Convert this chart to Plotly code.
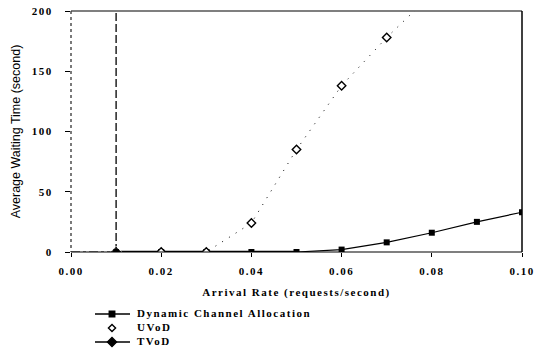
import plotly.graph_objects as go

# Arrival rate (requests/second) and average waiting time (second)
rates = [0.01, 0.02, 0.03, 0.04, 0.05, 0.06, 0.07, 0.08, 0.09, 0.10]
dynamic_wait = [0, 0, 0, 0, 0, 2, 8, 16, 25, 33]

uvod_rates = [0.02, 0.03, 0.04, 0.05, 0.06, 0.07, 0.08]
uvod_wait = [0, 0, 24, 85, 138, 178, 214]

tvod_rates = [0.01, 0.02, 0.03, 0.04, 0.05]
tvod_wait = [0, 0, 0, 0, 0]
tvod_limit_rate = 0.01          # TVoD becomes unbounded beyond this rate
tvod_limit_wait = [0, 200]

series_names = ["Dynamic Channel Allocation", "UVoD", "TVoD"]

x_ticks = [0.00, 0.02, 0.04, 0.06, 0.08, 0.10]
x_tick_text = ["0.00", "0.02", "0.04", "0.06", "0.08", "0.10"]
y_ticks = [0, 50, 100, 150, 200]

W, H = 544, 349
PL, PR, PT, PB = 71, 522, 11, 252   # plot area in pixels

serif = "Liberation Serif"
fig = go.Figure()

# lead-in and asymptote for TVoD
fig.add_trace(go.Scatter(x=[0.0, tvod_limit_rate], y=[0, 0], mode="lines",
                         line=dict(color="black", width=1, dash="dashdot"),
                         showlegend=False, hoverinfo="skip"))
fig.add_trace(go.Scatter(x=[tvod_limit_rate, tvod_limit_rate], y=tvod_limit_wait,
                         mode="lines", line=dict(color="black", width=1.3, dash="8px,3px"),
                         showlegend=False, hoverinfo="skip"))

fig.add_trace(go.Scatter(x=rates, y=dynamic_wait, mode="lines+markers",
                         line=dict(color="black", width=1.2),
                         marker=dict(symbol="square", size=6, color="black"),
                         showlegend=False))
fig.add_trace(go.Scatter(x=tvod_rates, y=tvod_wait, mode="lines+markers",
                         line=dict(color="black", width=2.4),
                         marker=dict(symbol="diamond", size=[9, 0, 0, 0, 0], color="black"),
                         showlegend=False))
fig.add_trace(go.Scatter(x=uvod_rates, y=uvod_wait, mode="lines+markers",
                         line=dict(color="black", width=1, dash="1px,7px"),
                         marker=dict(symbol="diamond", size=6.5, color="white",
                                     line=dict(width=1.4, color="black")),
                         showlegend=False))

# hand-laid legend in pixel coordinates
leg_y = [314, 328, 342]
leg_modes = ["lines+markers", "markers", "lines+markers"]
leg_symbols = ["square", "diamond", "diamond"]
leg_sizes = [5.5, 5.5, 7]
leg_fill = ["black", "white", "black"]
for yy, mode, sym, sz, fc in zip(leg_y, leg_modes, leg_symbols, leg_sizes, leg_fill):
    if "lines" in mode:
        fig.add_trace(go.Scatter(x=[95, 130], y=[yy, yy], xaxis="x2", yaxis="y2",
                                 mode="lines", line=dict(color="black", width=1.3),
                                 showlegend=False, hoverinfo="skip"))
    fig.add_trace(go.Scatter(x=[112], y=[yy], xaxis="x2", yaxis="y2", mode="markers",
                             marker=dict(symbol=sym, size=sz, color=fc,
                                         line=dict(width=1.4, color="black")),
                             showlegend=False, hoverinfo="skip"))
fig.add_trace(go.Scatter(x=[137] * 3, y=leg_y, xaxis="x2", yaxis="y2", mode="text",
                         text=series_names, textposition="middle right",
                         textfont=dict(family=serif, size=11, color="black", weight="bold"),
                         showlegend=False, hoverinfo="skip"))

shapes = [
    # frame
    dict(type="line", xref="paper", yref="paper", x0=PL / W, x1=PR / W,
         y0=1 - PT / H, y1=1 - PT / H, line=dict(color="#555", width=1.5)),
    dict(type="line", xref="paper", yref="paper", x0=PR / W, x1=PR / W,
         y0=1 - PT / H, y1=1 - PB / H, line=dict(color="black", width=1.5)),
    dict(type="line", xref="paper", yref="paper", x0=PL / W, x1=PR / W,
         y0=1 - PB / H, y1=1 - PB / H, line=dict(color="black", width=1.2)),
    dict(type="line", xref="paper", yref="paper", x0=PL / W, x1=PL / W,
         y0=1 - PT / H, y1=1 - PB / H, line=dict(color="#333", width=1.3, dash="dot")),
]

tick_font = dict(family=serif, size=11, color="black", weight="bold")
fig.update_layout(
    width=W, height=H, margin=dict(l=0, r=0, t=0, b=0),
    paper_bgcolor="white", plot_bgcolor="rgba(0,0,0,0)", showlegend=False,
    xaxis=dict(domain=[PL / W, PR / W], range=[0, 0.10], tickvals=x_ticks,
               ticktext=x_tick_text, ticks="outside", ticklen=4, tickcolor="black",
               showgrid=False, zeroline=False, showline=False, tickfont=tick_font,
               automargin=False, ticklabelstandoff=5, anchor="y",
               title=dict(text="Arrival Rate (requests/second)", standoff=12,
                          font=dict(family=serif, size=11, color="black", weight="bold"))),
    yaxis=dict(domain=[1 - PB / H, 1 - PT / H], range=[0, 200], tickvals=y_ticks,
               ticks="outside", ticklen=5, tickcolor="black", showgrid=False,
               zeroline=False, showline=False, tickfont=tick_font, automargin=False,
               ticklabelstandoff=10, anchor="x",
               title=dict(text="Average Waiting Time (second)", standoff=12,
                          font=dict(family="Liberation Sans", size=12.5, color="black"))),
    xaxis2=dict(domain=[0, 1], range=[0, W], visible=False, fixedrange=True, anchor="y2"),
    yaxis2=dict(domain=[0, 1], range=[H, 0], visible=False, fixedrange=True, anchor="x2"),
    shapes=shapes,
)

# widen the letter spacing of the serif labels each time the figure is drawn
spacing_js = """
var gd = document.getElementById('{plot_id}');
function spaceLetters() {
  gd.querySelectorAll('.xtick text, .ytick text, .g-xtitle text, .textpoint text').forEach(function(t){
    t.setAttribute('letter-spacing', '1.5px');
    t.style.letterSpacing = '1.5px';
  });
}
spaceLetters();
gd.on('plotly_afterplot', spaceLetters);
setTimeout(spaceLetters, 50);
setTimeout(spaceLetters, 300);
"""
fig.write_html("out.html", post_script=spacing_js)
